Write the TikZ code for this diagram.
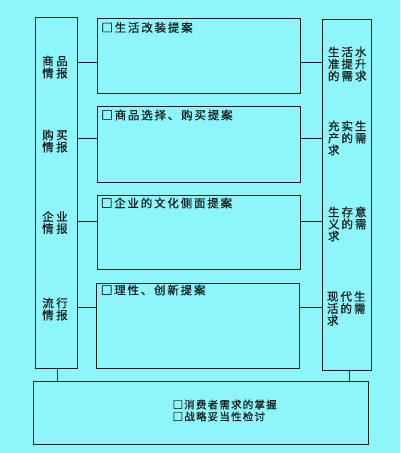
\documentclass[tikz,border=0pt]{standalone}
\usepackage{fontspec}
\newfontfamily\cjk[FakeBold=0.8]{Noto Sans CJK SC}
\definecolor{bgc}{RGB}{142,246,250}
\definecolor{ink}{RGB}{25,30,30}
\ExplSyntaxOn
\NewDocumentCommand\pitched{m m}{\tl_map_inline:nn {#2}{\makebox[#1]{##1}}}
\ExplSyntaxOff
\begin{document}
\begin{tikzpicture}[x=1pt,y=-1pt,
  box/.style={draw=ink, line width=0.95pt, inner sep=0pt, outer sep=0pt},
  conn/.style={draw=ink, line width=0.95pt},
  lbl/.style={inner sep=0pt, outer sep=0pt, text=ink, align=center,
    font=\cjk\fontsize{11.5}{12}\selectfont},
  small/.style={lbl, font=\cjk\fontsize{10.5}{12}\selectfont}]
\fill[bgc] (0,0) rectangle (400,453);
\useasboundingbox (0,0) rectangle (400,453);
% boxes
\node[box, minimum width=42pt, minimum height=351pt] (L) at (56,192.5) {};
\node[box, minimum width=49pt, minimum height=351pt] (R) at (346.5,194.5) {};
\node[box, minimum width=203pt, minimum height=75pt] (M1) at (199,55.5) {};
\node[box, minimum width=203pt, minimum height=76pt] (M2) at (199,144) {};
\node[box, minimum width=203pt, minimum height=74pt] (M3) at (198.5,232) {};
\node[box, minimum width=203pt, minimum height=85pt] (M4) at (198,325.5) {};
\node[box, minimum width=335pt, minimum height=63pt] (B) at (200.5,412.5) {};
% connector rows
\coordinate (r1) at (0,62.5);
\coordinate (r2) at (0,138.5);
\coordinate (r3) at (0,221.5);
\coordinate (r4) at (0,307.5);
\foreach \i in {1,2,3,4}{
  \draw[conn] (L.east |- r\i) -- (M\i.west |- r\i);
  \draw[conn] (M\i.east |- r\i) -- (R.west |- r\i);
}
\coordinate (cl) at (57,0);
\coordinate (cr) at (349,0);
\draw[conn] (L.south -| cl) -- (B.north -| cl);
\draw[conn] (R.south -| cr) -- (B.north -| cr);
% left labels
\node[lbl] (t1) at (55,67) {\pitched{14pt}{商品}\\\pitched{14pt}{情报}};
\node[lbl] (t2) at (55,141) {\pitched{14pt}{购买}\\\pitched{14pt}{情报}};
\node[lbl] (t3) at (55,222.5) {\pitched{14pt}{企业}\\\pitched{14pt}{情报}};
\node[lbl] (t4) at (55,309) {\pitched{14pt}{流行}\\\pitched{14pt}{情报}};
% right labels
\node[lbl, align=left, anchor=west] (s1) at (327,64) {\pitched{13.5pt}{生活水}\\\pitched{13.5pt}{准提升}\\\pitched{13.5pt}{的需求}};
\node[lbl, align=left, anchor=west] (s2) at (327,138) {\pitched{13.5pt}{充实生}\\\pitched{13.5pt}{产的需}\\\pitched{13.5pt}{求}};
\node[lbl, align=left, anchor=west] (s3) at (327,224) {\pitched{13.5pt}{生存意}\\\pitched{13.5pt}{义的需}\\\pitched{13.5pt}{求}};
\node[lbl, align=left, anchor=west] (s4) at (326,308.5) {\pitched{13.5pt}{现代生}\\\pitched{13.5pt}{活的需}\\\pitched{13.5pt}{求}};
% middle titles
\node[lbl, anchor=west] (h1) at (100.5,27.5) {\pitched{13.3pt}{□生活改装提案}};
\node[lbl, anchor=west] (h2) at (100.5,115) {\pitched{13.3pt}{□商品选择、购买提案}};
\node[lbl, anchor=west] (h3) at (100,203) {\pitched{13.3pt}{□企业的文化侧面提案}};
\node[lbl, anchor=west] (h4) at (100,290) {\pitched{13.3pt}{□理性、创新提案}};
% bottom text
\node[small, align=left, anchor=west] (b1) at (172,410.5) {\pitched{11.7pt}{□消费者需求的掌握}\\\pitched{11.7pt}{□战略妥当性检讨}};
\end{tikzpicture}
\end{document}
